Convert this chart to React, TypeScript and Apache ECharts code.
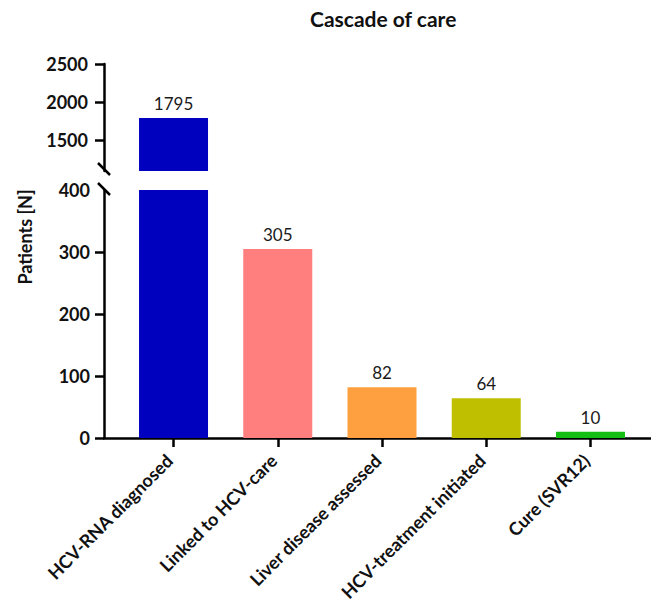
import React, { useEffect, useRef } from "react";
import * as echarts from "echarts";

const categories = [
  "HCV-RNA diagnosed",
  "Linked to HCV-care",
  "Liver disease assessed",
  "HCV-treatment initiated",
  "Cure (SVR12)",
];
const patients = [1795, 305, 82, 64, 10];
const barColors = ["#0000BF", "#FF7F7F", "#FFA040", "#BFBF00", "#12BF12"];
const upperTicks = [1500, 2000, 2500];
const lowerTicks = [0, 100, 200, 300, 400];

const FONT = "Lato";
const LOWER_MAX = 400;
const UPPER_MIN = 1100;

export default function App() {
  const ref = useRef<HTMLDivElement>(null);
  useEffect(() => {
    if (!ref.current) return;
    const chart = echarts.init(ref.current, undefined, { renderer: "svg" });
    const xIdx = categories.map((_, i) => i);
    const xMin = -0.667;
    const xMax = 4.619;
    const labelStyle = {
      show: true,
      position: "top" as const,
      distance: 6,
      color: "#1a1a1a",
      fontFamily: FONT,
      fontSize: 17,
    };
    const yLabel = {
      margin: 14,
      fontFamily: FONT,
      fontWeight: "bold" as const,
      fontSize: 18,
      color: "#111",
      formatter: (v: number) => String(v),
    };
    chart.setOption({
      animation: false,
      backgroundColor: "#ffffff",
      title: {
        text: "Cascade of care",
        left: 305,
        top: 3,
        textStyle: { fontFamily: FONT, fontWeight: "bold", fontSize: 21, color: "#111" },
      },
      grid: [
        { left: 104, right: 4, top: 64, height: 107 },
        { left: 104, right: 4, top: 190, height: 248 },
      ],
      xAxis: [
        {
          type: "value",
          gridIndex: 0,
          min: xMin,
          max: xMax,
          show: false,
        },
        {
          type: "value",
          gridIndex: 1,
          min: xMin,
          max: xMax,
          splitLine: { show: false },
          axisLine: { show: true, onZero: false, lineStyle: { color: "#000", width: 2.5 } },
          axisTick: { show: true, length: 9, customValues: xIdx, lineStyle: { color: "#000", width: 2.5 } },
          axisLabel: {
            customValues: xIdx,
            formatter: (v: number) => categories[Math.round(v)] ?? "",
            rotate: 45,
            margin: 15,
            padding: [0, 6, 0, 0],
            fontFamily: FONT,
            fontWeight: "bold",
            fontSize: 18,
            color: "#111",
          },
        },
      ],
      yAxis: [
        {
          type: "value",
          gridIndex: 0,
          min: UPPER_MIN,
          max: 2500,
          splitLine: { show: false },
          axisLine: { show: true, onZero: false, lineStyle: { color: "#000", width: 2.5 } },
          axisTick: { show: true, length: 9, customValues: upperTicks, lineStyle: { color: "#000", width: 2.5 } },
          axisLabel: { ...yLabel, margin: 16, customValues: upperTicks },
        },
        {
          type: "value",
          gridIndex: 1,
          min: 0,
          max: LOWER_MAX,
          interval: 100,
          splitLine: { show: false },
          axisLine: { show: true, onZero: false, lineStyle: { color: "#000", width: 2.5 } },
          axisTick: {
            show: true,
            length: 9,
            customValues: lowerTicks.filter((t) => t < LOWER_MAX),
            lineStyle: { color: "#000", width: 2.5 },
          },
          axisLabel: { ...yLabel, customValues: lowerTicks },
        },
      ],
      series: [
        {
          type: "bar",
          xAxisIndex: 0,
          yAxisIndex: 0,
          barWidth: 69,
          data: patients.map((v, i) => ({
            value: [i, v > UPPER_MIN ? v : null],
            itemStyle: { color: barColors[i] },
          })),
          label: { ...labelStyle, formatter: (p: any) => String(p.value[1]) },
        },
        {
          type: "bar",
          xAxisIndex: 1,
          yAxisIndex: 1,
          barWidth: 69,
          clip: true,
          data: patients.map((v, i) => ({
            value: [i, v],
            itemStyle: { color: barColors[i] },
            label: { show: v <= LOWER_MAX },
          })),
          label: { ...labelStyle, formatter: (p: any) => String(p.value[1]) },
        },
      ],
      graphic: [
        {
          type: "text",
          x: 25,
          y: 237,
          rotation: Math.PI / 2,
          style: {
            text: "Patients [N]",
            fontFamily: FONT,
            fontWeight: "bold",
            fontSize: 18,
            fill: "#111",
            align: "center",
            verticalAlign: "middle",
          },
        },
        {
          type: "rect",
          shape: { x: 96, y: 166, width: 16, height: 22 },
          style: { fill: "#fff" },
        },
        {
          type: "line",
          shape: { x1: 98, y1: 163, x2: 110, y2: 175 },
          style: { stroke: "#000", lineWidth: 2.5 },
        },
        {
          type: "line",
          shape: { x1: 98, y1: 183, x2: 110, y2: 195 },
          style: { stroke: "#000", lineWidth: 2.5 },
        },
      ],
    });
    return () => chart.dispose();
  }, []);
  return <div ref={ref} style={{ width: 659, height: 607, margin: -8 }} />;
}
